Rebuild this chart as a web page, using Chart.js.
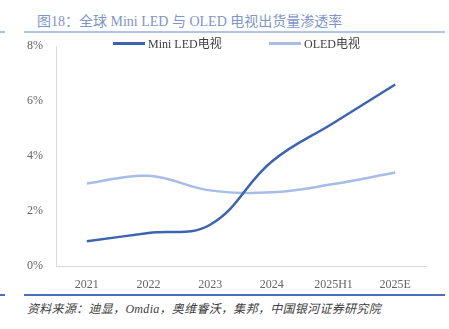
<!DOCTYPE html>
<html>
<head>
<meta charset="utf-8">
<script src="https://cdn.jsdelivr.net/npm/chart.js@4"></script>
<style>
  body { margin: 0; width: 449px; height: 329px; background: #fff; position: relative; overflow: hidden;
         font-family: "Liberation Serif", "Noto Sans CJK SC", serif; }
  #title { position: absolute; left: 37px; top: 10px; font-size: 14px; color: #7f95c8; white-space: nowrap; }
  .rule { position: absolute; height: 2px; }
  #legend { position: absolute; top: 37px; left: 0; font-size: 12px; color: #404040; }
  .item { position: absolute; white-space: nowrap; line-height: 14px; }
  .swatch { display: inline-block; width: 32px; height: 3px; vertical-align: middle; margin-right: 3px; position: relative; top: -2px; }
  #source { position: absolute; left: 27px; top: 299px; font-size: 12px; letter-spacing: 0.3px; color: #404040; font-style: italic; white-space: nowrap; }
  canvas { position: absolute; left: 0; top: 0; }
</style>
</head>
<body>
<div id="title">图18：全球 Mini LED 与 OLED 电视出货量渗透率</div>
<div class="rule" style="left:0;width:5px;top:31px;background:#a9bbdf"></div>
<div class="rule" style="left:24px;width:421px;top:31px;background:#b3c3e3"></div>
<div class="rule" style="left:0;width:5px;top:294px;background:#4a6fbb"></div>
<div class="rule" style="left:24px;width:421px;top:294px;background:#4a6fbb"></div>
<div id="source">资料来源：迪显，Omdia，奥维睿沃，集邦，中国银河证券研究院</div>
<canvas id="myChart" width="449" height="329"></canvas>
<div id="legend"></div>
<script>
// categories and series (percent)
const years = ['2021', '2022', '2023', '2024', '2025H1', '2025E'];
const miniLed = [0.9, 1.2, 1.5, 3.8, 5.2, 6.6];
const oled = [3.0, 3.28, 2.75, 2.68, 2.98, 3.4];
const yTicks = [0, 2, 4, 6, 8];

const seriesNames = ['Mini LED电视', 'OLED电视'];
const seriesColors = ['#3d64b0', '#a7bce6'];

const data = {
  labels: years,
  datasets: [
    {
      label: seriesNames[0],
      data: miniLed,
      borderColor: seriesColors[0],
      backgroundColor: seriesColors[0],
      borderWidth: 2.5,
      pointRadius: 0,
      tension: 0.4
    },
    {
      label: seriesNames[1],
      data: oled,
      borderColor: seriesColors[1],
      backgroundColor: seriesColors[1],
      borderWidth: 2.5,
      pointRadius: 0,
      tension: 0.4
    }
  ]
};

const tickFont = { family: '"Liberation Serif", "Noto Sans CJK SC", serif', size: 12 };

const config = {
  type: 'line',
  data: data,
  options: {
    responsive: false,
    animation: false,
    layout: { padding: { left: 0, right: 23, top: 46, bottom: 35 } },
    plugins: { legend: { display: false }, tooltip: { enabled: false } },
    scales: {
      x: {
        offset: true,
        grid: { display: false, drawTicks: false },
        border: { display: true, color: '#d9d9d9', width: 1 },
        ticks: { color: '#666666', font: tickFont, padding: 12, maxRotation: 0 },
        afterFit: function (scale) { scale.height = 28; }
      },
      y: {
        min: 0,
        max: 8,
        grid: { display: false, drawTicks: false },
        border: { display: true, color: '#d9d9d9', width: 1 },
        ticks: {
          color: '#666666', font: tickFont, padding: 13,
          stepSize: 2,
          callback: function (v) { return yTicks.includes(v) ? v + '%' : null; }
        },
        afterFit: function (scale) { scale.width = 56; }
      }
    }
  }
};

const myChart = new Chart(document.getElementById('myChart'), config);

// html legend sitting inside the top of the plot
const legend = document.getElementById('legend');
const legendX = [113, 269];
seriesNames.forEach(function (name, i) {
  const item = document.createElement('div');
  item.className = 'item';
  item.style.left = legendX[i] + 'px';
  item.innerHTML = '<span class="swatch" style="background:' + seriesColors[i] + '"></span>' + name;
  legend.appendChild(item);
});
</script>
</body>
</html>
